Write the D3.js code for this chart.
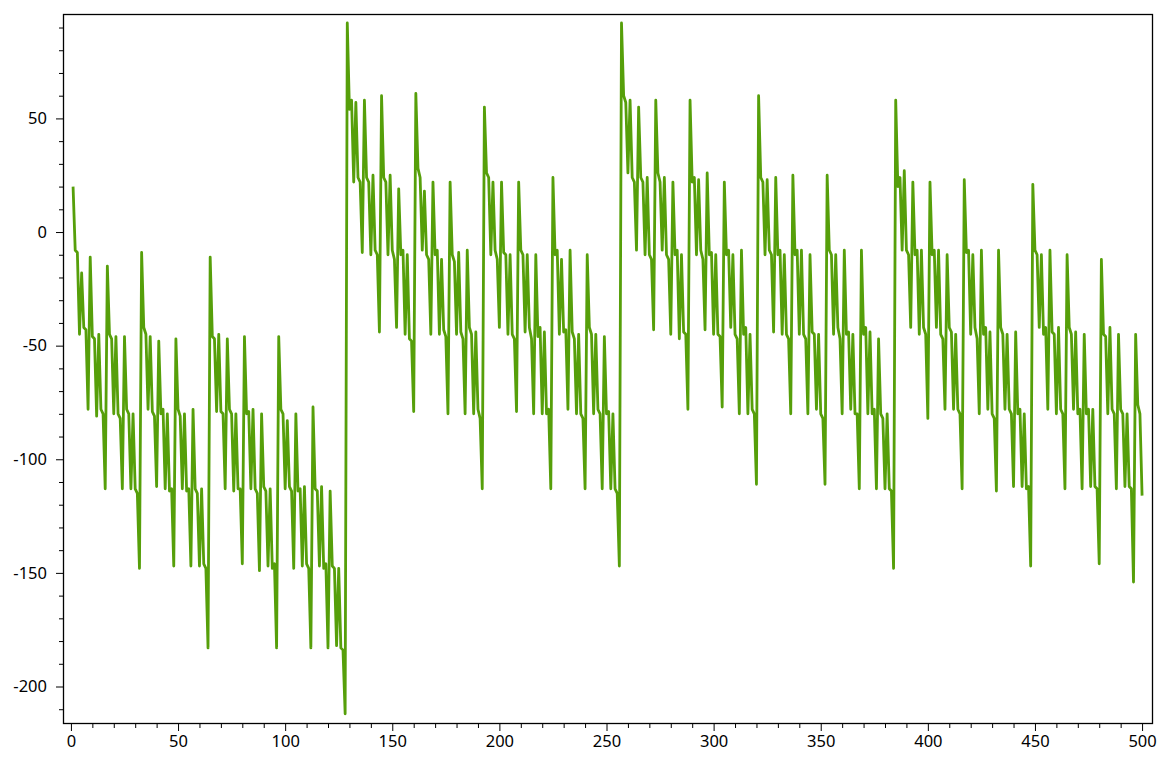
<!DOCTYPE html>
<html><head><meta charset="utf-8">
<script src="https://cdn.jsdelivr.net/npm/d3@7"></script>
<style>body{margin:0;background:#fff}svg{display:block}</style>
</head><body><svg id="c" width="1160" height="766"></svg>
<script>
// Series values (x = 1..500)
const seg1 = [20,-8,-9,-45,-18,-42,-43,-78,-11,-46,-47,-81,-45,-78,-80,-113,
 -15,-45,-47,-80,-46,-80,-82,-113,-46,-78,-80,-113,-80,-113,-115,-148,
 -9,-42,-45,-78,-46,-79,-81,-112,-48,-80,-78,-113,-80,-114,-113,-147,
 -47,-78,-81,-113,-80,-114,-113,-147,-78,-113,-115,-147,-113,-146,-148,-183,
 -11,-46,-47,-79,-45,-79,-80,-113,-47,-78,-80,-114,-80,-113,-113,-146,
 -46,-80,-79,-113,-78,-113,-115,-149,-80,-112,-114,-147,-113,-148,-146,-183,
 -46,-78,-80,-113,-83,-112,-114,-148,-80,-114,-113,-147,-112,-146,-148,-183,
 -77,-113,-114,-147,-112,-148,-146,-183,-114,-147,-148,-182,-148,-183,-184,-212];
const seg2 = [92,54,58,22,57,24,22,-9,58,24,22,-10,25,-8,-10,-44,
 60,24,22,-10,25,-8,-12,-42,19,-10,-8,-45,-10,-47,-48,-79,
 61,28,24,-8,18,-10,-12,-45,22,-10,-8,-45,-12,-43,-46,-80,
 22,-10,-13,-45,-9,-44,-47,-80,-8,-42,-45,-80,-44,-78,-82,-113,
 55,26,24,-10,22,-8,-12,-42,22,-9,-10,-45,-10,-45,-47,-79,
 22,-8,-10,-44,-10,-42,-47,-80,-10,-46,-42,-80,-44,-80,-78,-113,
 24,-10,-8,-45,-12,-44,-43,-78,-8,-44,-47,-80,-45,-80,-82,-113,
 -10,-42,-45,-80,-45,-78,-80,-113,-46,-80,-79,-113,-80,-113,-115,-147];
const seg3 = [92,60,57,26,58,24,22,-8,55,24,22,-10,24,-10,-12,-43,
 58,26,22,-8,24,-10,-12,-45,22,-10,-8,-47,-10,-44,-45,-78,
 58,22,24,-10,23,-8,-12,-43,26,-10,-9,-45,-10,-45,-46,-77,
 22,-10,-8,-42,-10,-45,-47,-80,-8,-45,-42,-80,-45,-78,-80,-111,
 60,24,22,-10,23,-8,-10,-44,24,-10,-8,-45,-10,-45,-47,-80,
 25,-10,-8,-45,-8,-45,-47,-80,-10,-44,-45,-78,-45,-80,-82,-111,
 25,-8,-10,-45,-10,-42,-47,-80,-8,-45,-44,-78,-45,-80,-80,-113,
 -8,-45,-42,-80,-44,-80,-78,-113,-47,-80,-82,-113,-80,-113,-114,-148];
const seg4 = [58,20,24,-8,27,-8,-10,-42,22,-10,-8,-45,-8,-42,-45,-82,
 22,-10,-8,-42,-8,-45,-47,-78,-10,-42,-44,-78,-45,-78,-80,-113,
 23,-9,-8,-45,-10,-42,-47,-80,-8,-45,-42,-78,-44,-80,-82,-114,
 -8,-42,-45,-78,-45,-78,-80,-112,-44,-80,-78,-112,-80,-113,-112,-147,
 21,-8,-10,-42,-10,-45,-42,-78,-8,-44,-45,-80,-42,-78,-80,-113,
 -10,-42,-45,-78,-44,-80,-78,-113,-45,-80,-78,-112,-78,-112,-113,-146,
 -12,-45,-46,-80,-42,-78,-80,-113,-45,-78,-80,-112,-80,-112,-113,-154,
 -45,-76,-80,-116];
const values = seg1.concat(seg2, seg3, seg4);
const xTicks = [0,50,100,150,200,250,300,350,400,450,500];
const yTicks = [-200,-150,-100,-50,0,50];

const svg = d3.select('#c');
const L = 63, R = 1153, T = 14, B = 724;
const x = d3.scaleLinear().domain([-3.7, 505.1]).range([L, R]);
const y = d3.scaleLinear().domain([-216.5, 95.95]).range([B, T]);

const font = '"Segoe UI","Noto Sans",sans-serif';

// minor ticks
const xMinor = d3.range(0, 501, 10).filter(v => v % 50 !== 0);
const yMinor = d3.range(-210, 91, 10).filter(v => v % 50 !== 0);

function styleAxis(g){
  g.select('.domain').remove();
  g.selectAll('line').attr('stroke', '#000');
  g.selectAll('text').attr('fill', '#000').style('font-family', font).style('font-size', '16.5px');
}

svg.append('g').attr('transform', `translate(0,${B})`)
  .call(d3.axisBottom(x).tickValues(xMinor).tickSize(4).tickFormat(''))
  .call(styleAxis);
svg.append('g').attr('transform', `translate(0,${B})`)
  .call(d3.axisBottom(x).tickValues(xTicks).tickSize(7).tickPadding(4).tickFormat(d => String(d)))
  .call(styleAxis);
svg.append('g').attr('transform', `translate(${L},0)`)
  .call(d3.axisLeft(y).tickValues(yMinor).tickSize(4).tickFormat(''))
  .call(styleAxis);
svg.append('g').attr('transform', `translate(${L},0)`)
  .call(d3.axisLeft(y).tickValues(yTicks).tickSize(7).tickPadding(9).tickFormat(d => String(d)))
  .call(styleAxis);

const line = d3.line().x((d, i) => x(i + 1)).y(d => y(d));
svg.append('path').datum(values)
  .attr('d', line)
  .attr('fill', 'none')
  .attr('stroke', '#569f0a')
  .attr('stroke-width', 2.8)
  .attr('stroke-linejoin', 'round');

svg.append('rect').attr('x', L + 0.5).attr('y', T + 0.5)
  .attr('width', R - L - 1).attr('height', B - T - 1)
  .attr('fill', 'none').attr('stroke', '#000').attr('stroke-width', 1.3);
</script></body></html>
